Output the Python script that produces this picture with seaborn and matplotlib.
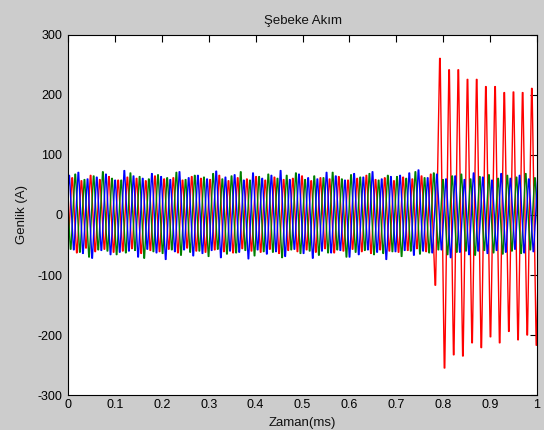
import numpy as np
import pandas as pd
import matplotlib
matplotlib.use("Agg")
import matplotlib.pyplot as plt
import seaborn as sns

# ---- data: successive extrema (alternating trough/peak) of each phase current ----
half_period = 0.0098          # time between successive extrema
red_t0, green_t0, blue_t0 = -0.0008, -0.0041, -0.0073   # time of first extremum

red_pre = [-58, 62, -63, 57, -55, 66, -61, 59, -57, 64,
           -62, 58, -60, 63, -56, 61, -64, 57, -59, 65,
           -61, 60, -57, 62, -63, 58, -55, 64, -60, 61,
           -62, 59, -58, 66, -61, 57, -63, 62, -56, 60,
           -60, 64, -62, 58, -57, 63, -64, 59, -59, 61,
           -61, 65, -58, 57, -62, 62, -56, 60, -63, 64,
           -60, 58, -57, 61, -61, 66, -64, 59, -58, 62,
           -60, 57, -62, 63, -59, 60, -56, 65, -61, 68]
red_fault = [-117, 261, -255, 242, -233, 242, -235, 226, -213, 226,
             -221, 214, -203, 214, -213, 204, -194, 205, -208, 204,
             -200, 211, -217, 150]

green = [63, -57, 68, -62, 59, -70, 65, -58, 72, -60,
         61, -66, 58, -63, 70, -59, 64, -72, 60, -61,
         67, -64, 62, -58, 71, -67, 59, -62, 66, -60,
         63, -69, 69, -57, 60, -65, 65, -63, 72, -59,
         58, -68, 64, -61, 68, -62, 61, -71, 66, -58,
         70, -64, 59, -60, 65, -67, 62, -63, 71, -58,
         60, -70, 67, -62, 63, -59, 69, -66, 58, -64,
         66, -61, 64, -69, 61, -60, 72, -65, 62, -63,
         70, -58, 59, -66, 65, -62, 68, -60, 60, -67,
         64, -59, 67, -63, 61, -65, 66, -60, 63, -64,
         69, -58, 62, -66]

blue = [-61, 66, -58, 71, -64, 60, -72, 63, -59, 68,
        -66, 58, -62, 74, -60, 65, -70, 61, -57, 69,
        -63, 64, -74, 59, -61, 72, -58, 62, -68, 66,
        -64, 60, -59, 73, -71, 63, -60, 67, -62, 58,
        -73, 70, -58, 61, -65, 66, -61, 74, -69, 59,
        -57, 68, -64, 62, -72, 60, -60, 71, -63, 65,
        -59, 58, -70, 69, -66, 63, -58, 72, -62, 60,
        -74, 64, -61, 66, -59, 70, -67, 75, -60, 62,
        -63, 68, -58, 60, -71, 65, -62, 59, -66, 70,
        -60, 63, -64, 58, -59, 69, -62, 61, -57, 66,
        -63, 60, -61, 64]

x_ticks = [0, 0.1, 0.2, 0.3, 0.4, 0.5, 0.6, 0.7, 0.8, 0.9, 1]
x_ticklabels = ["0", "0.1", "0.2", "0.3", "0.4", "0.5", "0.6", "0.7", "0.8", "0.9", "1"]
y_ticks = [-300, -200, -100, 0, 100, 200, 300]

# ---- build long table (each crest drawn as a short flat top) ----
crest = 0.0006
frames = []
for name, t0, vals in [("a", red_t0, red_pre + red_fault),
                       ("b", green_t0, green),
                       ("c", blue_t0, blue)]:
    v = np.asarray(vals, dtype=float)
    t = t0 + half_period * np.arange(len(v))
    tt = np.column_stack([t - crest, t + crest]).ravel()
    vv = np.repeat(v, 2)
    frames.append(pd.DataFrame({"t": tt, "i": vv, "faz": name}))
df = pd.concat(frames, ignore_index=True)

sns.set_style("white")
plt.rcParams["font.family"] = ["Liberation Sans", "DejaVu Sans"]
plt.rcParams["axes.unicode_minus"] = False

bg = "#cccccc"
fig = plt.figure(figsize=(5.44, 4.30), dpi=100, facecolor=bg)
ax = fig.add_axes([68/544, 35/430, (537-68)/544, (395-35)/430])
ax.set_facecolor("white")

sns.lineplot(data=df, x="t", y="i", hue="faz", units="faz", estimator=None, sort=False,
             palette={"a": "#ff0000", "b": "#008000", "c": "#0000ff"},
             hue_order=["a", "b", "c"], linewidth=1.0, legend=False, ax=ax)

ax.set_xlim(0, 1)
ax.set_ylim(-300, 300)
ax.set_xticks(x_ticks)
ax.set_xticklabels(x_ticklabels)
ax.set_yticks(y_ticks)
ax.tick_params(direction="in", length=5, width=0.8, top=True, right=True,
               labelsize=9, colors="black", pad=3)
ax.tick_params(axis="y", pad=4)
for s in ax.spines.values():
    s.set_visible(True)
    s.set_color("black")
    s.set_linewidth(0.8)

ax.set_title("Şebeke Akım", fontsize=9.5, color="#111111", pad=8)
ax.set_xlabel("Zaman(ms)", fontsize=9.5, color="#111111", labelpad=4)
ax.set_ylabel("Genlik (A)", fontsize=9.5, color="#111111", labelpad=7)

fig.savefig("out.png", dpi=100, facecolor=bg)
